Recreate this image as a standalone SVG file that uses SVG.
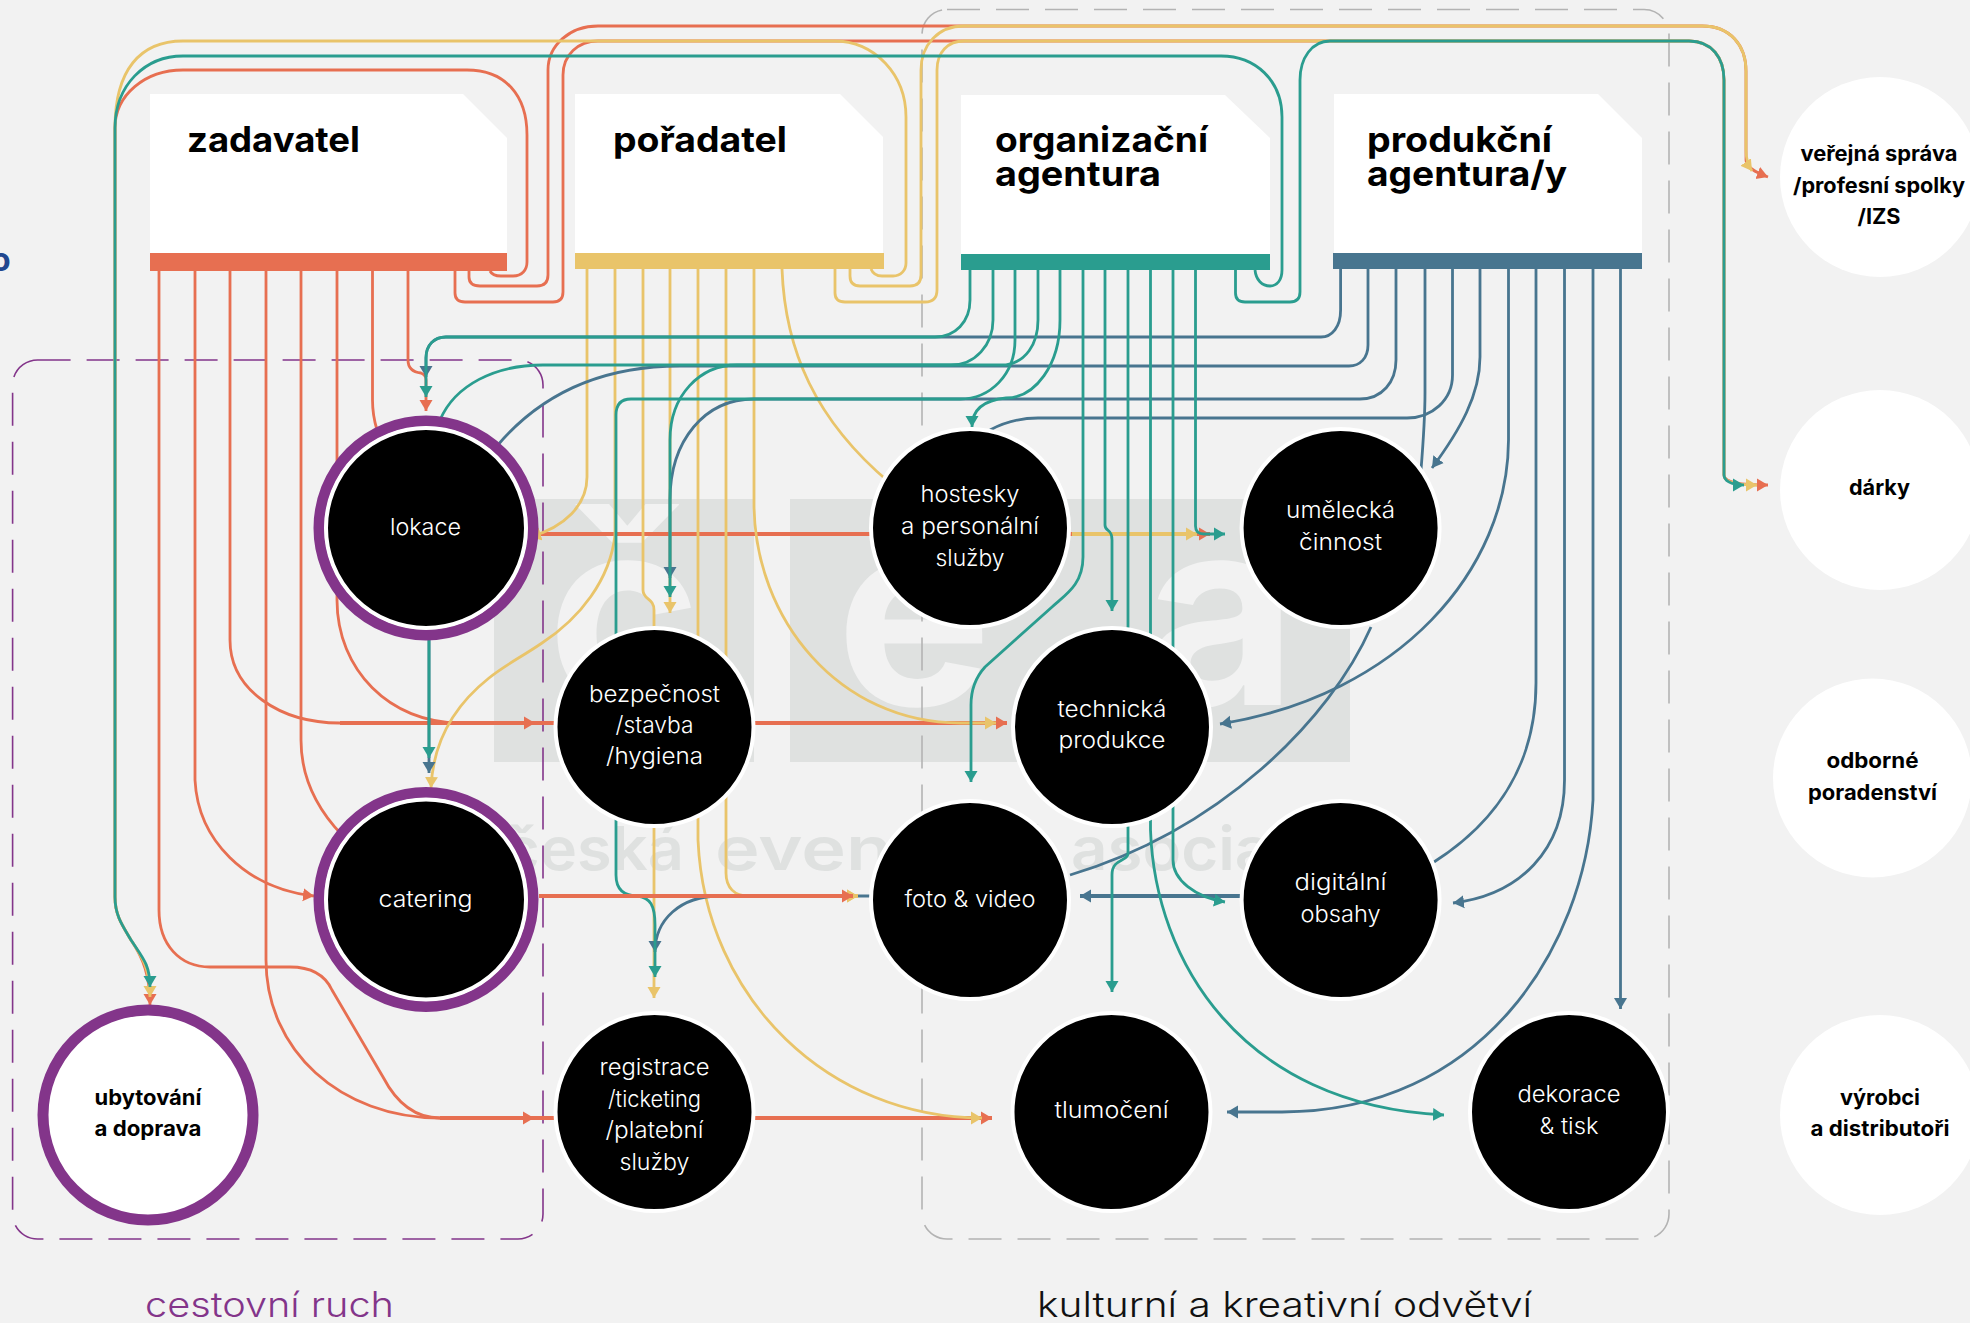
<svg xmlns="http://www.w3.org/2000/svg" width="1970" height="1323" viewBox="0 0 1970 1323">
<defs>
<style>
text{font-family:"Inter","Noto Sans","Liberation Sans",sans-serif}
.h{font-size:35px;font-weight:700;fill:#000}
.l{font-size:23px;font-weight:300;fill:#fff;text-anchor:middle}
.b{font-size:21px;font-weight:700;fill:#000;text-anchor:middle}
.cap{font-size:35px;font-weight:300}
.wm{font-size:262px;font-weight:700;fill:#f2f2f2}
.wt{font-size:60px;font-weight:600;fill:#dfe1e0}
.dash{fill:none;stroke-width:1.6;stroke-dasharray:33 16}
#connectors path{fill:none;stroke-width:2.8}
.o{stroke:#e76f51}
.y{stroke:#e9c46a}
.t{stroke:#2a9d8f}
.u{stroke:#48758f}
#connectors .th{stroke-width:3.8}
.o.a{marker-end:url(#mo)}
.y.a{marker-end:url(#my)}
.t.a{marker-end:url(#mt)}
.u.a{marker-end:url(#mu)}
.ring{fill:#000;stroke:#fff;stroke-width:4}
.pur{fill:none;stroke:#83358a;stroke-width:11}
.w{fill:#fff}
</style>
<marker id="mo" markerUnits="userSpaceOnUse" markerWidth="12" markerHeight="14" refX="11" refY="7" orient="auto"><path d="M0 .5L11 7L0 13.5Z" fill="#e76f51"/></marker>
<marker id="my" markerUnits="userSpaceOnUse" markerWidth="12" markerHeight="14" refX="11" refY="7" orient="auto"><path d="M0 .5L11 7L0 13.5Z" fill="#e9c46a"/></marker>
<marker id="mt" markerUnits="userSpaceOnUse" markerWidth="12" markerHeight="14" refX="11" refY="7" orient="auto"><path d="M0 .5L11 7L0 13.5Z" fill="#2a9d8f"/></marker>
<marker id="mu" markerUnits="userSpaceOnUse" markerWidth="12" markerHeight="14" refX="11" refY="7" orient="auto"><path d="M0 .5L11 7L0 13.5Z" fill="#48758f"/></marker>
</defs>
<rect width="1970" height="1323" fill="#f2f2f2"/>
<text x="-9" y="271" font-size="32" font-weight="700" fill="#21478f">o</text>

<g id="watermark">
<rect x="494" y="499" width="260" height="263" fill="#dfe1e0"/>
<rect x="790" y="499" width="560" height="263" fill="#dfe1e0"/>
<text class="wm" x="547" y="705">č</text>
<text class="wm" x="836" y="705">e</text>
<text class="wm" x="1145" y="705">a</text>
<text class="wt" x="503" y="870" textLength="181" lengthAdjust="spacingAndGlyphs">česká</text>
<text class="wt" x="715" y="870" textLength="335" lengthAdjust="spacingAndGlyphs">eventová</text>
<text class="wt" x="1071" y="870" textLength="275" lengthAdjust="spacingAndGlyphs">asociace</text>
</g>

<rect class="dash" x="12.6" y="360" width="530.4" height="879" rx="25" stroke="#83358a"/>
<rect class="dash" x="922" y="9.5" width="747" height="1229.5" rx="25" stroke="#b3b3b3"/>

<g id="connectors">
<path class="o" d="M159 271V910C159 945 180 967 210 967H290C312 967 325 975 332 990L383 1077C395 1100 412 1118 440 1118"/>
<path class="o a th" d="M440 1118H534"/>
<path class="o a th" d="M534 1118H992"/>
<path class="o a" d="M195 271V780C198 840 245 888 314 896"/>
<path class="o" d="M230 271V640C230 690 280 723 340 723"/>
<path class="o a th" d="M340 723H535"/>
<path class="o a th" d="M535 723H1007"/>
<path class="o" d="M266 271V960C266 1050 340 1118 440 1118"/>
<path class="o" d="M301 271V740C301 780 318 810 342 835"/>
<path class="o" d="M337 271V600C337 670 390 723 460 723"/>
<path class="o" d="M372.5 271V400C372.5 410 374 420 377 430"/>
<path class="o a" d="M408 271V360C408 368 412 372 421 373Q426 375 426 380V411"/>
<path class="o a" d="M490 271C492 275 496 276 501 276H513C522 276 527 270 527 262V135C527 95 505 70 467 70H183C145 70 115 95 115 128V897C115 915 122 925 131 940C143 958 150 975 150 1005"/>
<path class="o a" d="M469 271V277Q469 286 480 286H537Q548 286 548 275V70C548 45 570 26 598 26H1702C1730 26 1746 45 1746 71V160C1746 167 1755 172 1768 177"/>
<path class="o a" d="M455 271V293Q455 302 465 302H553Q563 302 563 292V75C563 55 578 41 598 41H1689C1712 41 1724 58 1724 80V475C1724 480 1730 485 1768 485"/>
<path class="o a th" d="M539 534H1210"/>

<path class="y a" d="M871 269C873 274 876 276 882 276H893C901 276 906 270 906 263V117C906 75 875 41 834 41H183C140 41 115 70 115 128V897C115 915 122 925 131 940C143 958 150 970 150 997"/>
<path class="y a" d="M850 269V276Q850 286 860 286H910Q921 286 921 275V70C921 45 938 26 964 26H1702C1730 26 1746 45 1746 71V150C1746 158 1747 164 1752 171"/>
<path class="y a" d="M835 269V293Q835 302 845 302H925Q937 302 937 290V70C937 52 948 41 964 41H1689C1712 41 1724 58 1724 80V475C1724 480 1730 485 1757 485"/>
<path class="y a" d="M587 269V477C587 505 565 527 530 537"/>
<path class="y a" d="M615 269V535C610 580 580 618 542 643C520 658 505 665 489 678C455 705 433 740 431 788"/>
<path class="y a" d="M643 269V590C643 600 654 598 654 610V998"/>
<path class="y a" d="M670 269V613"/>
<path class="y a" d="M698 269V840C705 1000 830 1118 982 1118"/>
<path class="y a" d="M726 269V873C726 888 735 896 748 896H858"/>
<path class="y a" d="M754 269V503C754 620 840 723 960 723H996"/>
<path class="y" d="M782 269C785 350 815 420 890 483"/>
<path class="y a th" d="M1072 534H1197"/>

<path class="u a" d="M1340.6 269V310C1340.6 327 1332 337 1321 337H446C434 337 426 345 426 358V377"/>
<path class="u" d="M1368 269V345C1368 358 1360 366 1349 366H680C600 366 540 395 497 446"/>
<path class="u a" d="M1396 269V360C1396 382 1382 399 1360 399H754C705 399 670 440 670 500V578"/>
<path class="u" d="M1425 269V393C1425 420 1423 445 1421 470"/>
<path class="u" d="M1452.5 269V375C1452.5 400 1432 418 1407 418H1038C1020 418 1005 422 990 430"/>
<path class="u a" d="M1480 269V357C1480 395 1460 430 1432 468"/>
<path class="u a" d="M1508.5 269V440C1508 570 1400 695 1220 724"/>
<path class="u" d="M1371 627C1330 720 1220 830 1070 875"/>
<path class="u a" d="M870 896H720C680 896 655 920 655 952"/>
<path class="u" d="M1536 269V683C1536 760 1500 820 1434 862"/>
<path class="u a th" d="M1240 896H1080"/>
<path class="u a" d="M1564.5 269V780C1564.5 850 1520 895 1453 903"/>
<path class="u a" d="M1593 269V800C1585 950 1480 1112 1282 1112H1227"/>
<path class="u a" d="M1620.5 269V1009"/>
<path class="u a" d="M429 640V773"/>

<path class="t a" d="M1255 270C1256 280 1262 286 1270 286C1277 286 1282 280 1282 270V117C1282 80 1255 56 1221 56H183C145 56 115 85 115 128V897C115 915 122 925 131 940C143 958 150 965 150 987"/>
<path class="t a" d="M1235.5 270V293Q1235.5 302 1245 302H1290Q1300 302 1300 292V80C1300 58 1312 41 1330 41H1689C1712 41 1724 58 1724 80V475C1724 480 1730 485 1744 485"/>
<path class="t a" d="M970 270V300C970 322 955 337 935 337H446C434 337 426 345 426 358V397"/>
<path class="t" d="M993 270V320C993 345 975 365 951 365H543C495 365 455 385 440 420"/>
<path class="t a" d="M1015 270V340C1015 375 990 399 960 399H631Q616 399 616 415V875C616 890 625 896 638 896C650 898 655 905 655 925V977"/>
<path class="t a" d="M1038 270V320C1038 345 1025 362 1006 365H737C700 365 670 395 670 440V597"/>
<path class="t a" d="M1060 270V320C1060 365 1035 398 1006 398C985 400 972 408 972 427"/>
<path class="t a" d="M1083 270V557C1083 585 1065 595 1052 607L985 667C975 678 971 690 971 705V782"/>
<path class="t a" d="M1105 270V525C1105 532 1112 528 1112 540V611"/>
<path class="t a" d="M1128 270V853C1128 862 1112 858 1112 875V992"/>
<path class="t a" d="M1150.5 270V830C1155 960 1240 1105 1444 1115"/>
<path class="t a" d="M1173 270V860C1173 880 1195 897 1225 902"/>
<path class="t a" d="M1195.5 270V526Q1195.5 534 1204 534H1225"/>
<path class="t a" d="M429 640V758"/>
<path class="y a th" d="M800 896H858"/>
<path class="o a th" d="M539 896H853"/>
</g>

<g id="zadavatel"><path class="w" d="M150 94H463L507 138V253H150Z"/><rect x="150" y="253" width="357" height="18" fill="#e76f51"/><text class="h" x="187" y="152" textLength="173" lengthAdjust="spacingAndGlyphs">zadavatel</text></g>
<g id="poradatel"><path class="w" d="M575 94H840L883 137V253H575Z"/><rect x="575" y="253" width="309" height="16" fill="#e9c46a"/><text class="h" x="613" y="152" textLength="174" lengthAdjust="spacingAndGlyphs">pořadatel</text></g>
<g id="organizacni"><path class="w" d="M961 95H1225L1270 138V254H961Z"/><rect x="961" y="254" width="309" height="16" fill="#2a9d8f"/><text class="h" x="995" y="152" textLength="213" lengthAdjust="spacingAndGlyphs">organizační</text><text class="h" x="995" y="186" textLength="166" lengthAdjust="spacingAndGlyphs">agentura</text></g>
<g id="produkcni"><path class="w" d="M1334 94H1598L1642 138V253H1334Z"/><rect x="1333" y="253" width="309" height="16" fill="#48758f"/><text class="h" x="1367" y="152" textLength="185" lengthAdjust="spacingAndGlyphs">produkční</text><text class="h" x="1367" y="186" textLength="200" lengthAdjust="spacingAndGlyphs">agentura/y</text></g>

<g id="lokace"><circle class="pur" cx="426" cy="528" r="107"/><circle class="ring" cx="426" cy="528" r="100"/><text class="l" x="425.5" y="535" textLength="71" lengthAdjust="spacingAndGlyphs">lokace</text></g>
<g id="catering"><circle class="pur" cx="426" cy="899.5" r="107"/><circle class="ring" cx="426" cy="899.5" r="100"/><text class="l" x="425.5" y="907" textLength="94" lengthAdjust="spacingAndGlyphs">catering</text></g>
<g id="ubytovani"><circle class="pur" cx="148" cy="1115" r="105" style="fill:#fff"/><text class="b" x="148" y="1105" textLength="107" lengthAdjust="spacingAndGlyphs">ubytování</text><text class="b" x="148" y="1136" textLength="107" lengthAdjust="spacingAndGlyphs">a doprava</text></g>
<g id="bezpecnost"><circle class="ring" cx="654.5" cy="727" r="99"/><text class="l" x="654.5" y="702" textLength="131" lengthAdjust="spacingAndGlyphs">bezpečnost</text><text class="l" x="654.5" y="733" textLength="78" lengthAdjust="spacingAndGlyphs">/stavba</text><text class="l" x="654.5" y="764" textLength="97" lengthAdjust="spacingAndGlyphs">/hygiena</text></g>
<g id="registrace"><circle class="ring" cx="654.5" cy="1112" r="99"/><text class="l" x="654.5" y="1075" textLength="110" lengthAdjust="spacingAndGlyphs">registrace</text><text class="l" x="654.5" y="1107" textLength="93" lengthAdjust="spacingAndGlyphs">/ticketing</text><text class="l" x="654.5" y="1138" textLength="98" lengthAdjust="spacingAndGlyphs">/platební</text><text class="l" x="654.5" y="1170" textLength="70" lengthAdjust="spacingAndGlyphs">služby</text></g>
<g id="hostesky"><circle class="ring" cx="970" cy="528" r="99"/><text class="l" x="970" y="502" textLength="99" lengthAdjust="spacingAndGlyphs">hostesky</text><text class="l" x="970" y="534" textLength="138" lengthAdjust="spacingAndGlyphs">a personální</text><text class="l" x="970" y="566" textLength="69" lengthAdjust="spacingAndGlyphs">služby</text></g>
<g id="umelecka"><circle class="ring" cx="1340.6" cy="528" r="99"/><text class="l" x="1340.6" y="518" textLength="109" lengthAdjust="spacingAndGlyphs">umělecká</text><text class="l" x="1340.6" y="550" textLength="83" lengthAdjust="spacingAndGlyphs">činnost</text></g>
<g id="technicka"><circle class="ring" cx="1112" cy="727" r="99"/><text class="l" x="1112" y="717" textLength="109" lengthAdjust="spacingAndGlyphs">technická</text><text class="l" x="1112" y="748" textLength="107" lengthAdjust="spacingAndGlyphs">produkce</text></g>
<g id="foto"><circle class="ring" cx="970" cy="900" r="99"/><text class="l" x="970" y="907" textLength="131" lengthAdjust="spacingAndGlyphs">foto &amp; video</text></g>
<g id="digitalni"><circle class="ring" cx="1340.6" cy="900" r="99"/><text class="l" x="1340.6" y="890" textLength="92" lengthAdjust="spacingAndGlyphs">digitální</text><text class="l" x="1340.6" y="922" textLength="80" lengthAdjust="spacingAndGlyphs">obsahy</text></g>
<g id="tlumoceni"><circle class="ring" cx="1111.5" cy="1112" r="99"/><text class="l" x="1111.5" y="1118" textLength="114" lengthAdjust="spacingAndGlyphs">tlumočení</text></g>
<g id="dekorace"><circle class="ring" cx="1569" cy="1112" r="99"/><text class="l" x="1569" y="1102" textLength="103" lengthAdjust="spacingAndGlyphs">dekorace</text><text class="l" x="1569" y="1134" textLength="59" lengthAdjust="spacingAndGlyphs">&amp; tisk</text></g>

<g id="verejna"><circle class="w" cx="1880" cy="177" r="100"/><text class="b" x="1879" y="161" textLength="157" lengthAdjust="spacingAndGlyphs">veřejná správa</text><text class="b" x="1879" y="193" textLength="172" lengthAdjust="spacingAndGlyphs">/profesní spolky</text><text class="b" x="1879" y="224" textLength="43" lengthAdjust="spacingAndGlyphs">/IZS</text></g>
<g id="darky"><circle class="w" cx="1880" cy="490" r="100"/><text class="b" x="1879.5" y="495" textLength="61" lengthAdjust="spacingAndGlyphs">dárky</text></g>
<g id="odborne"><circle class="w" cx="1872.5" cy="778" r="99.5"/><text class="b" x="1872.5" y="768" textLength="92" lengthAdjust="spacingAndGlyphs">odborné</text><text class="b" x="1872.5" y="800" textLength="129" lengthAdjust="spacingAndGlyphs">poradenství</text></g>
<g id="vyrobci"><circle class="w" cx="1880" cy="1115" r="100"/><text class="b" x="1880" y="1105" textLength="80" lengthAdjust="spacingAndGlyphs">výrobci</text><text class="b" x="1880" y="1136" textLength="139" lengthAdjust="spacingAndGlyphs">a distributoři</text></g>

<text class="cap" x="145" y="1317" fill="#83358a" textLength="249" lengthAdjust="spacingAndGlyphs">cestovní ruch</text>
<text class="cap" x="1037" y="1317" fill="#111" textLength="495" lengthAdjust="spacingAndGlyphs">kulturní a kreativní odvětví</text>
</svg>
